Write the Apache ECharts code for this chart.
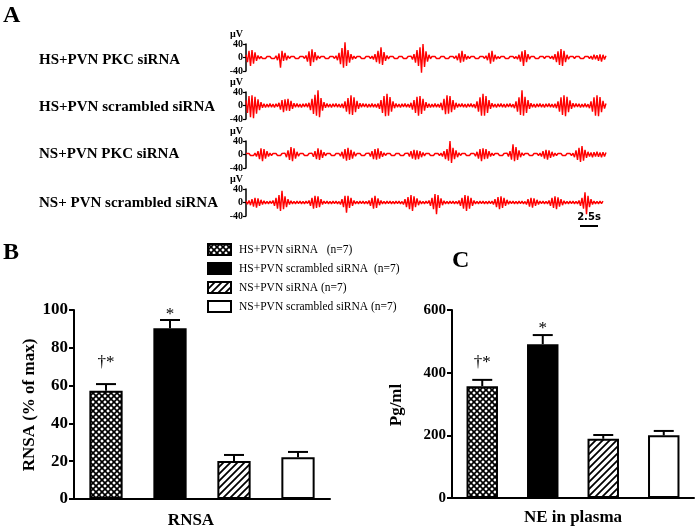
<!DOCTYPE html>
<html><head><meta charset="utf-8">
<script src="https://cdn.jsdelivr.net/npm/echarts@6/dist/echarts.min.js"></script>
<style>html,body{margin:0;padding:0;background:#fff}#c{width:697px;height:532px}</style>
</head><body><div id="c"></div>
<script>
// ---------- data ----------
const traceLabels = ['HS+PVN PKC siRNA', 'HS+PVN scrambled siRNA', 'NS+PVN PKC siRNA', 'NS+ PVN scrambled siRNA'];
const traceTicks = [-40, 0, 40];
// nerve traces, µV, one sample every ~0.1 s
const traceHSPKC = [
  8,-14,20,-25,22,-18,15,-10,6,-4,
  3,-3,2,-3,3,-2,3,-3,2,-3,
  5,-8,12,-30,20,-10,14,-8,5,-3,
  3,-2,3,-3,2,-3,3,-2,3,-3,
  6,-12,18,-25,24,-14,16,-8,5,-3,
  3,-2,3,-3,2,-3,3,-2,3,-3,
  5,-8,14,-20,28,-30,45,-25,22,-15,
  10,-6,4,-3,3,-2,3,-3,2,-3,
  3,-2,3,-3,4,-6,10,-14,20,-18,
  30,-22,16,-10,6,-4,3,-2,3,-3,
  2,-3,3,-2,3,-3,2,-3,3,-2,
  4,-6,10,-15,22,-25,30,-45,40,-28,
  18,-12,8,-4,3,-2,3,-3,2,-3,
  3,-2,3,-3,2,-3,3,-2,3,-3,
  5,-8,12,-15,20,-12,10,-6,4,-3,
  3,-2,3,-3,2,-3,3,-2,3,-3,
  5,-8,14,-18,20,-12,8,-5,3,-3,
  3,-2,3,-3,2,-3,3,-2,3,-3,
  3,-5,8,-12,18,-25,22,-14,10,-5,
  3,-2,3,-3,2,-3,3,-2,3,-3,
  3,-2,3,-3,4,-6,10,-14,18,-22,
  25,-25,20,-14,8,-5,3,-2,3,-3,
  3,-2,3,-3,2,-3,3,-2,3,-3,
  4,-6,8,-5,7,-10,9,-12,8,-6,
  5];
const traceHSScr = [
  15,-22,28,-35,30,-38,26,-24,18,-14,
  10,-7,5,-6,4,-5,6,-5,4,-6,
  5,-4,8,-12,16,-20,18,-15,20,-16,
  14,-10,7,-5,6,-5,4,-6,5,-4,
  6,-5,8,-14,20,-25,32,-30,45,-35,
  22,-15,10,-7,6,-5,4,-6,5,-4,
  6,-5,4,-6,5,-8,12,-18,22,-26,
  30,-28,24,-20,14,-10,7,-5,6,-4,
  5,-6,4,-5,6,-5,4,-6,6,-10,
  16,-22,28,-32,35,-30,25,-18,12,-8,
  6,-5,4,-6,5,-4,6,-5,4,-6,
  8,-12,16,-22,26,-30,28,-25,20,-15,
  10,-7,5,-6,4,-5,6,-5,4,-6,
  8,-14,20,-26,30,-24,28,-20,16,-12,
  8,-6,5,-4,6,-5,4,-6,5,-4,
  6,-5,4,-8,12,-18,24,-30,35,-30,
  28,-22,16,-10,7,-5,4,-6,5,-4,
  6,-5,4,-6,5,-4,6,-5,4,-8,
  12,-18,24,-28,45,-30,26,-22,16,-10,
  7,-5,4,-6,5,-4,6,-5,4,-6,
  5,-4,6,-5,4,-6,5,-8,12,-18,
  24,-28,30,-32,26,-20,15,-10,7,-5,
  6,-4,5,-6,4,-5,6,-5,4,-8,
  12,-18,24,-30,30,-32,25,-20,14,-9,
  6];
const traceNSPKC = [
  3,-2,3,-3,2,-3,4,-6,10,-14,
  18,-20,16,-12,10,-6,4,-3,3,-2,
  3,-3,2,-3,3,-2,4,-8,12,-16,
  22,-20,18,-12,8,-5,3,-2,3,-3,
  2,-3,3,-2,4,-7,10,-14,18,-16,
  14,-10,7,-4,3,-2,3,-3,2,-3,
  3,-2,3,-5,8,-12,16,-18,20,-16,
  14,-12,8,-5,3,-2,3,-3,2,-3,
  3,-2,4,-6,10,-14,16,-15,18,-12,
  10,-7,5,-3,3,-2,3,-3,2,-3,
  3,-2,3,-3,2,-3,3,-2,4,-6,
  10,-12,14,-15,12,-14,10,-8,6,-4,
  3,-2,3,-3,2,-3,3,-2,3,-3,
  4,-6,10,-14,16,-18,40,-25,20,-14,
  12,-8,5,-3,3,-2,3,-3,2,-3,
  3,-2,3,-5,8,-12,16,-20,18,-14,
  16,-12,10,-6,4,-3,3,-2,3,-3,
  2,-3,3,-2,4,-6,10,-15,30,-20,
  22,-16,12,-8,5,-3,3,-2,3,-3,
  2,-3,3,-2,3,-3,4,-6,10,-12,
  14,-15,12,-10,8,-6,4,-3,3,-2,
  3,-3,2,-3,3,-2,3,-3,4,-8,
  12,-16,20,-22,25,-18,14,-10,8,-6,
  6,-8,7,-6,8,-7,6,-8,7,-6,
  6];
const traceNSScr = [
  4,-5,6,-8,10,-12,14,-15,12,-10,
  8,-6,5,-4,3,-4,4,-3,6,-10,
  14,-18,22,-25,35,-20,18,-14,10,-6,
  5,-4,3,-4,4,-3,4,-4,3,-4,
  4,-3,6,-10,14,-18,20,-16,18,-14,
  10,-6,4,-3,4,-4,3,-4,4,-3,
  4,-4,3,-6,10,-14,20,-30,20,-16,
  14,-10,6,-4,3,-4,4,-3,4,-4,
  3,-4,6,-10,14,-18,20,-16,12,-8,
  6,-4,3,-4,4,-3,4,-4,3,-4,
  4,-3,4,-4,3,-6,10,-14,16,-20,
  22,-25,18,-14,12,-8,5,-4,3,-4,
  4,-3,6,-10,14,-20,25,-35,22,-16,
  12,-8,5,-4,3,-4,4,-3,4,-4,
  3,-4,6,-10,14,-18,22,-25,20,-18,
  14,-10,6,-4,3,-4,4,-3,4,-4,
  3,-4,4,-3,4,-6,10,-14,16,-20,
  18,-16,14,-10,8,-5,4,-3,4,-4,
  3,-4,4,-3,4,-4,3,-6,10,-12,
  14,-15,12,-10,8,-6,4,-3,4,-4,
  3,-4,6,-10,14,-16,18,-20,15,-12,
  10,-8,5,-4,3,-4,4,-3,4,-4,
  3,-4,6,-10,14,-18,30,-35,20,-14,
  10,-6,4,-4,3,-4,4,-3,4];
const traces = [traceHSPKC, traceHSScr, traceNSPKC, traceNSScr];

const groupNames = ['HS+PVN siRNA   (n=7)', 'HS+PVN scrambled siRNA  (n=7)', 'NS+PVN siRNA (n=7)', 'NS+PVN scrambled siRNA (n=7)'];
const rnsaMean = [57.3, 90.3, 20.1, 22.1];
const rnsaErr  = [3.5, 4.4, 3.2, 2.8];
const rnsaMarks = ['†*', '*', '', ''];
const rnsaMarkY = [72, 97.4, 0, 0];
const rnsaTicks = [0, 20, 40, 60, 80, 100];
const neMean = [357, 491, 189, 200];
const neErr  = [20, 29, 12, 14];
const neMarks = ['†*', '*', '', ''];
const neMarkY = [431, 542, 0, 0];
const neTicks = [0, 200, 400, 600];

// ---------- styles ----------
const SERIF = "'Times New Roman', 'Liberation Serif', serif";
function crossPat() {
  const c = document.createElement('canvas'); c.width = 6; c.height = 6;
  const g = c.getContext('2d');
  g.fillStyle = '#fff'; g.fillRect(0, 0, 6, 6);
  g.strokeStyle = '#000'; g.lineWidth = 1.7;
  g.beginPath();
  g.moveTo(-1, -1); g.lineTo(7, 7);
  g.moveTo(7, -1); g.lineTo(-1, 7);
  g.stroke();
  return c;
}
function hatchPat() {
  const c = document.createElement('canvas'); c.width = 7; c.height = 7;
  const g = c.getContext('2d');
  g.fillStyle = '#fff'; g.fillRect(0, 0, 7, 7);
  g.strokeStyle = '#000'; g.lineWidth = 1.8;
  g.beginPath();
  g.moveTo(-1, 8); g.lineTo(8, -1);
  g.moveTo(-2, 2); g.lineTo(2, -2);
  g.moveTo(5, 9); g.lineTo(9, 5);
  g.stroke();
  return c;
}
const fills = [
  { image: crossPat(), repeat: 'repeat' },
  '#000',
  { image: hatchPat(), repeat: 'repeat' },
  '#fff'
];

const traceTops = [44, 92, 141, 189];
const grids = traceTops.map(t => ({ left: 246, top: t, width: 360, height: 27 }));
grids.push({ left: 74, top: 310, width: 256, height: 189 });
grids.push({ left: 452, top: 310, width: 242, height: 188 });

const xAxes = [], yAxes = [], series = [];
traces.forEach((tr, k) => {
  xAxes.push({ type: 'value', gridIndex: k, min: 0, max: 240, show: false });
  yAxes.push({
    type: 'value', gridIndex: k, min: traceTicks[0], max: traceTicks[2], interval: 40,
    name: 'µV', nameLocation: 'end', nameGap: 3,
    nameTextStyle: { fontFamily: SERIF, fontWeight: 'bold', fontSize: 10, color: '#000', align: 'right', padding: [0, 3, 0, 0] },
    axisLine: { show: true, lineStyle: { color: '#000', width: 1.5 } },
    axisTick: { show: true, length: 3, lineStyle: { color: '#000', width: 1.2 } },
    axisLabel: { fontFamily: SERIF, fontWeight: 'bold', fontSize: 10, color: '#000', margin: 3 },
    splitLine: { show: false }
  });
  series.push({
    type: 'line', xAxisIndex: k, yAxisIndex: k, data: tr.map((v, i) => [i, v]),
    symbol: 'none', clip: false, silent: true,
    lineStyle: { color: '#ff0000', width: 1.4 }
  });
});

function barPanel(gi, mean, err, marks, markY, ticks, xName, labelSize, nameGap, namePad) {
  xAxes.push({
    type: 'category', gridIndex: gi, data: groupNames,
    axisLine: { lineStyle: { color: '#000', width: 2 } },
    axisTick: { show: false }, axisLabel: { show: false },
    name: xName, nameLocation: 'middle', nameGap: nameGap,
    nameTextStyle: { fontFamily: SERIF, fontWeight: 'bold', fontSize: 17, color: '#000', padding: namePad }
  });
  yAxes.push({
    type: 'value', gridIndex: gi, min: ticks[0], max: ticks[ticks.length - 1], interval: ticks[1] - ticks[0],
    axisLine: { show: true, lineStyle: { color: '#000', width: 2 } },
    axisTick: { show: true, length: 5, lineStyle: { color: '#000', width: 2 } },
    axisLabel: { fontFamily: SERIF, fontWeight: 'bold', fontSize: labelSize, color: '#000', margin: 6 },
    splitLine: { show: false }
  });
  groupNames.forEach((nm, g) => {
    series.push({
      type: 'bar', name: nm, xAxisIndex: gi, yAxisIndex: gi,
      data: mean.map((v, i) => (i === g ? v : '-')),
      barWidth: '52%', barGap: '-100%',
      itemStyle: { color: fills[g], borderColor: '#000', borderWidth: 2 }
    });
  });
  series.push({
    type: 'custom', xAxisIndex: gi, yAxisIndex: gi, silent: true, z: 5,
    data: mean.map((v, i) => [i, v, v + err[i], markY[i]]),
    renderItem: function (params, api) {
      const i = api.value(0);
      const p0 = api.coord([i, api.value(1)]);
      const p1 = api.coord([i, api.value(2)]);
      const pm = api.coord([i, api.value(3)]);
      const half = 10;
      const children = [
        { type: 'line', shape: { x1: p0[0], y1: p0[1], x2: p1[0], y2: p1[1] }, style: { stroke: '#000', lineWidth: 2 } },
        { type: 'line', shape: { x1: p1[0] - half, y1: p1[1], x2: p1[0] + half, y2: p1[1] }, style: { stroke: '#000', lineWidth: 2 } }
      ];
      if (marks[i]) {
        children.push({ type: 'text', style: { text: marks[i], x: pm[0], y: pm[1], textAlign: 'center', textVerticalAlign: 'middle', font: '17px ' + SERIF, fill: '#000' } });
      }
      return { type: 'group', children: children };
    }
  });
}
barPanel(4, rnsaMean, rnsaErr, rnsaMarks, rnsaMarkY, rnsaTicks, 'RNSA', 17, 13, [0, 22, 0, 0]);
barPanel(5, neMean, neErr, neMarks, neMarkY, neTicks, 'NE in plasma', 15, 11, [0, 0, 0, 0]);

const graphics = [
  { type: 'text', left: 3, top: 4, style: { text: 'A', font: 'bold 24px ' + SERIF, fill: '#000' } },
  { type: 'text', left: 3, top: 241, style: { text: 'B', font: 'bold 24px ' + SERIF, fill: '#000' } },
  { type: 'text', left: 452, top: 249, style: { text: 'C', font: 'bold 24px ' + SERIF, fill: '#000' } },
  { type: 'text', x: 30, y: 405, rotation: Math.PI / 2, style: { text: 'RNSA (% of max)', font: 'bold 17px ' + SERIF, fill: '#000', textAlign: 'center', textVerticalAlign: 'middle' } },
  { type: 'text', x: 397, y: 405, rotation: Math.PI / 2, style: { text: 'Pg/ml', font: 'bold 17px ' + SERIF, fill: '#000', textAlign: 'center', textVerticalAlign: 'middle' } },
  { type: 'text', x: 589, y: 217, style: { text: '2.5s', font: 'bold 10px DejaVu Sans, sans-serif', fill: '#000', textAlign: 'center', textVerticalAlign: 'middle' } },
  { type: 'rect', shape: { x: 580, y: 225, width: 18, height: 2 }, style: { fill: '#000' } }
];
const labelY = [60, 107, 154, 203];
traceLabels.forEach((t, k) => {
  graphics.push({ type: 'text', x: 39, y: labelY[k], style: { text: t, font: 'bold 15px ' + SERIF, fill: '#000', textVerticalAlign: 'middle' } });
});

const chart = echarts.init(document.getElementById('c'));
chart.setOption({
  animation: false,
  backgroundColor: '#fff',
  grid: grids, xAxis: xAxes, yAxis: yAxes, series: series,
  legend: {
    data: groupNames, orient: 'vertical', left: 202, top: 238,
    itemWidth: 23, itemHeight: 11, itemGap: 6, icon: 'rect', selectedMode: false,
    itemStyle: { borderColor: '#000', borderWidth: 2 },
    textStyle: { fontFamily: SERIF, fontSize: 11.5, color: '#000', padding: [0, 0, 0, 3] }
  },
  graphic: graphics
});
</script>
</body></html>
